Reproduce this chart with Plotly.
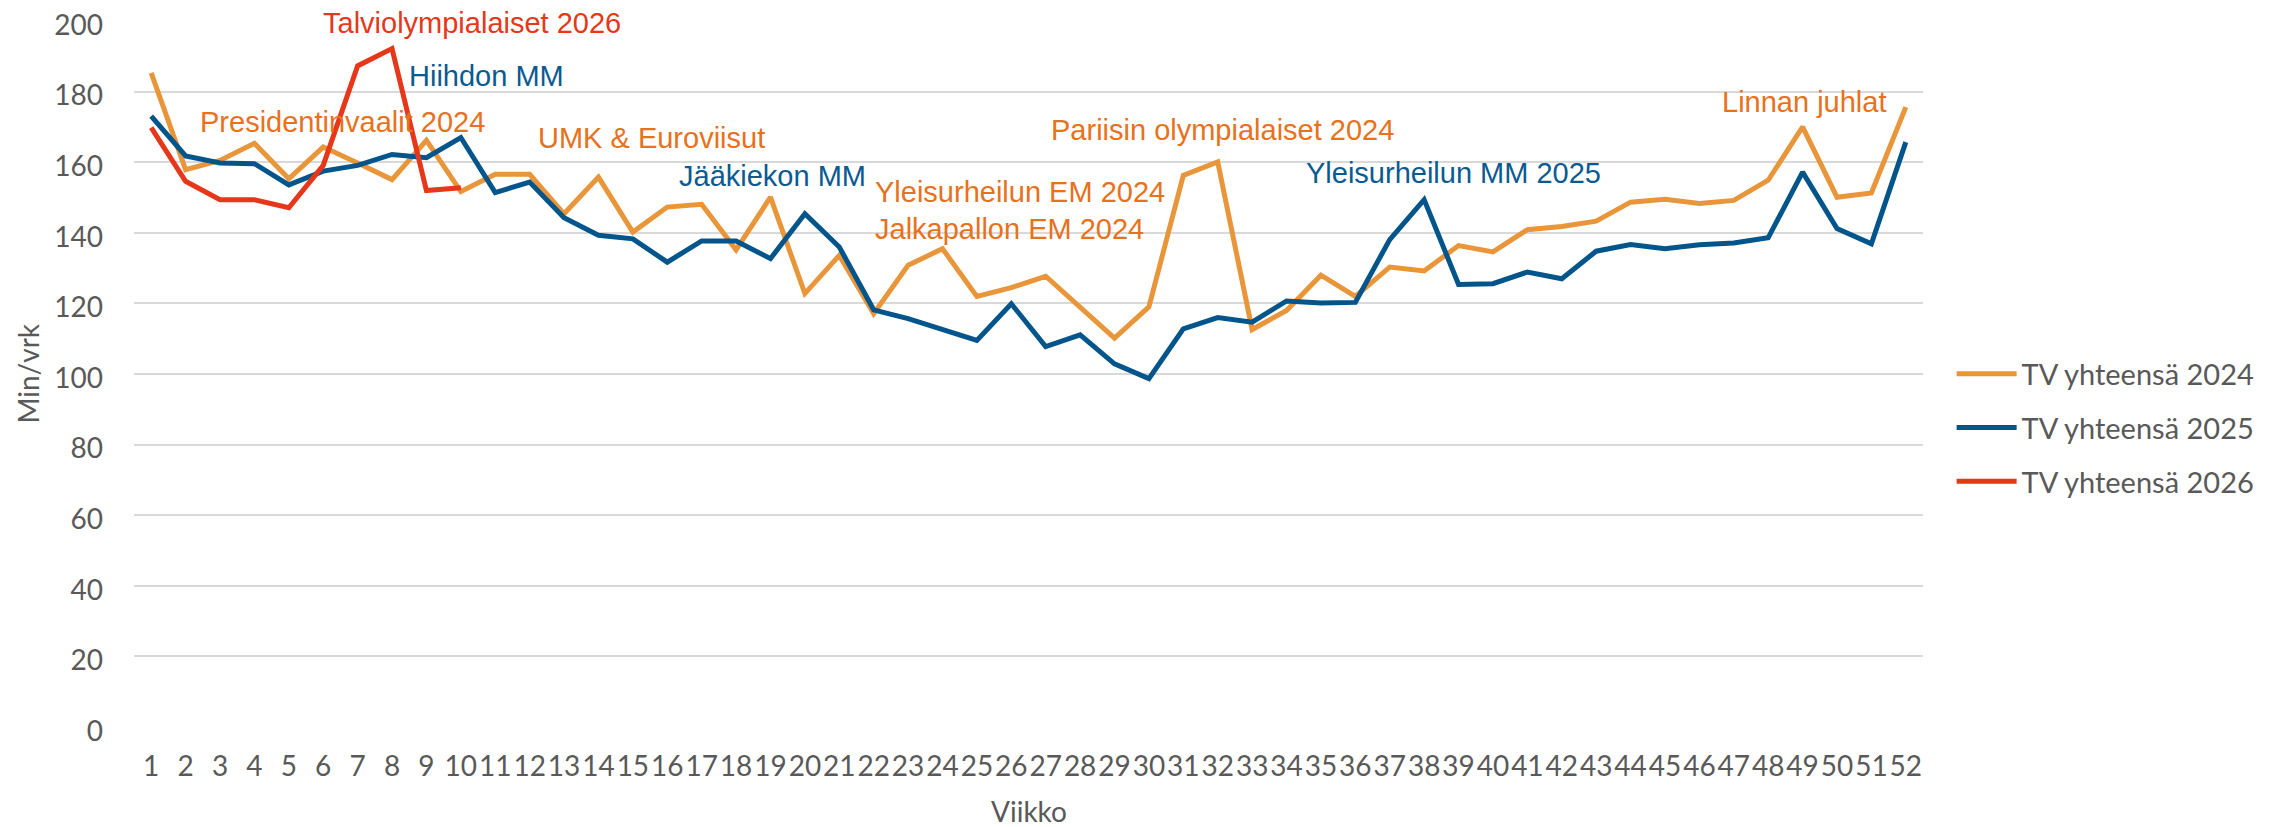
import plotly.graph_objects as go

weeks = list(range(1, 53))
tv_2024 = [185.3, 157.9, 160.5, 165.4, 155.3, 164.3, 159.8, 155.1, 166.2, 151.7,
           156.6, 156.6, 145.4, 155.8, 140.2, 147.3, 148.1, 135.2, 150.1, 122.8,
           133.6, 117.1, 130.8, 135.5, 122.0, 124.5, 127.7, 119.0, 110.2, 119.0,
           156.3, 160.1, 112.6, 118.0, 128.0, 122.0, 130.3, 129.2, 136.4, 134.6,
           140.9, 141.8, 143.3, 148.7, 149.5, 148.3, 149.2, 154.9, 170.0, 150.1,
           151.3, 175.6]
tv_2025 = [173.1, 161.8, 159.8, 159.6, 153.6, 157.5, 159.1, 162.2, 161.3, 167.0,
           151.4, 154.4, 144.3, 139.3, 138.3, 131.7, 137.7, 137.7, 132.7, 145.4,
           136.0, 118.2, 115.7, 112.6, 109.5, 119.9, 107.8, 111.1, 102.9, 98.7,
           112.8, 116.0, 114.7, 120.7, 120.1, 120.3, 138.1, 149.4, 125.4, 125.6,
           128.9, 127.0, 134.8, 136.7, 135.5, 136.6, 137.1, 138.6, 157.2, 141.2,
           136.9, 165.7]
tv_2026 = [169.8, 154.6, 149.4, 149.4, 147.1, 159.1, 187.3, 192.2, 152.0, 152.8]

series_names = ["TV yhteensä 2024", "TV yhteensä 2025", "TV yhteensä 2026"]
series_colors = ["#E9953A", "#02558B", "#E6371A"]

y_ticks = list(range(0, 201, 20))
tick_labels = [str(w) for w in weeks]

x_title = "Viikko"
y_title = "Min/vrk"

# event labels
event_texts = ["Talviolympialaiset 2026", "Hiihdon MM", "Presidentinvaalit 2024",
               "UMK & Euroviisut", "Jääkiekon MM", "Yleisurheilun EM 2024",
               "Jalkapallon EM 2024", "Pariisin olympialaiset 2024",
               "Yleisurheilun MM 2025", "Linnan juhlat"]
event_x = [10.32, 10.76, 6.56, 15.55, 19.05, 21.99, 21.99, 32.13, 38.86, 49.05]
event_y = [199.5, 184.3, 171.4, 167.0, 156.0, 151.6, 141.2, 169.1, 157.0, 177.1]
event_anchor = ["center", "center", "center", "center", "center", "left", "left",
                "center", "center", "center"]
ORANGE_T = "#E8711C"
BLUE_T = "#0A5A92"
RED_T = "#E6371A"
event_colors = [RED_T, BLUE_T, ORANGE_T, ORANGE_T, BLUE_T, ORANGE_T, ORANGE_T,
                ORANGE_T, BLUE_T, ORANGE_T]

fig = go.Figure()
for i, (name, vals) in enumerate(zip(series_names, [tv_2024, tv_2025, tv_2026])):
    fig.add_trace(go.Scatter(
        x=weeks[:len(vals)], y=vals, mode="lines", name=name,
        line=dict(color=series_colors[i], width=5),
        legendgroup=name,
    ))

for t, x, y, a, c in zip(event_texts, event_x, event_y, event_anchor, event_colors):
    fig.add_annotation(x=x, y=y, xref="x", yref="y", text=t, showarrow=False,
                       xanchor=a, yanchor="middle",
                       font=dict(family="Liberation Sans, Arial", size=29, color=c))

GRAY = "#595959"
FONT_FAMILY = "Lato, Carlito, Calibri, sans-serif"
TICKFONT = dict(family=FONT_FAMILY, size=28, color=GRAY)
LEGFONT = dict(family=FONT_FAMILY, size=29, color=GRAY)

# axis titles
fig.add_annotation(x=0.5, y=-0.1186, xref="paper", yref="paper", text=x_title,
                   showarrow=False, xanchor="center", yanchor="middle", font=TICKFONT)
fig.add_annotation(x=-0.0595, y=0.5, xref="paper", yref="paper", text=y_title,
                   showarrow=False, xanchor="center", yanchor="middle",
                   textangle=-90, font=TICKFONT)

# the page body adds an 8px margin, so positions are shifted by 8px
fig.update_layout(
    width=2272, height=819,
    margin=dict(l=126, r=357, t=13, b=100, autoexpand=False),
    paper_bgcolor="white", plot_bgcolor="white",
    showlegend=True,
    legend=dict(x=1.016, xanchor="left", y=0.4235, yanchor="middle",
                font=LEGFONT, traceorder="grouped", tracegroupgap=13,
                itemwidth=60, bgcolor="rgba(0,0,0,0)"),
    xaxis=dict(range=[0.5, 52.5], tickmode="array", tickvals=weeks,
               ticktext=tick_labels, tickfont=TICKFONT, tickangle=0,
               showgrid=False, automargin=False, ticklabeloverflow="allow",
               zeroline=False, showline=False, ticks="", ticklabelstandoff=20),
    yaxis=dict(range=[0, 200.02], tickmode="array", tickvals=y_ticks,
               tickfont=TICKFONT, showgrid=True, gridcolor="#D9D9D9", gridwidth=2,
               zeroline=False, showline=False, ticks="", ticklabelstandoff=30,
               ticklabelshift=4,
               automargin=False, ticklabeloverflow="allow"),
)

fig.write_html("out.html")
